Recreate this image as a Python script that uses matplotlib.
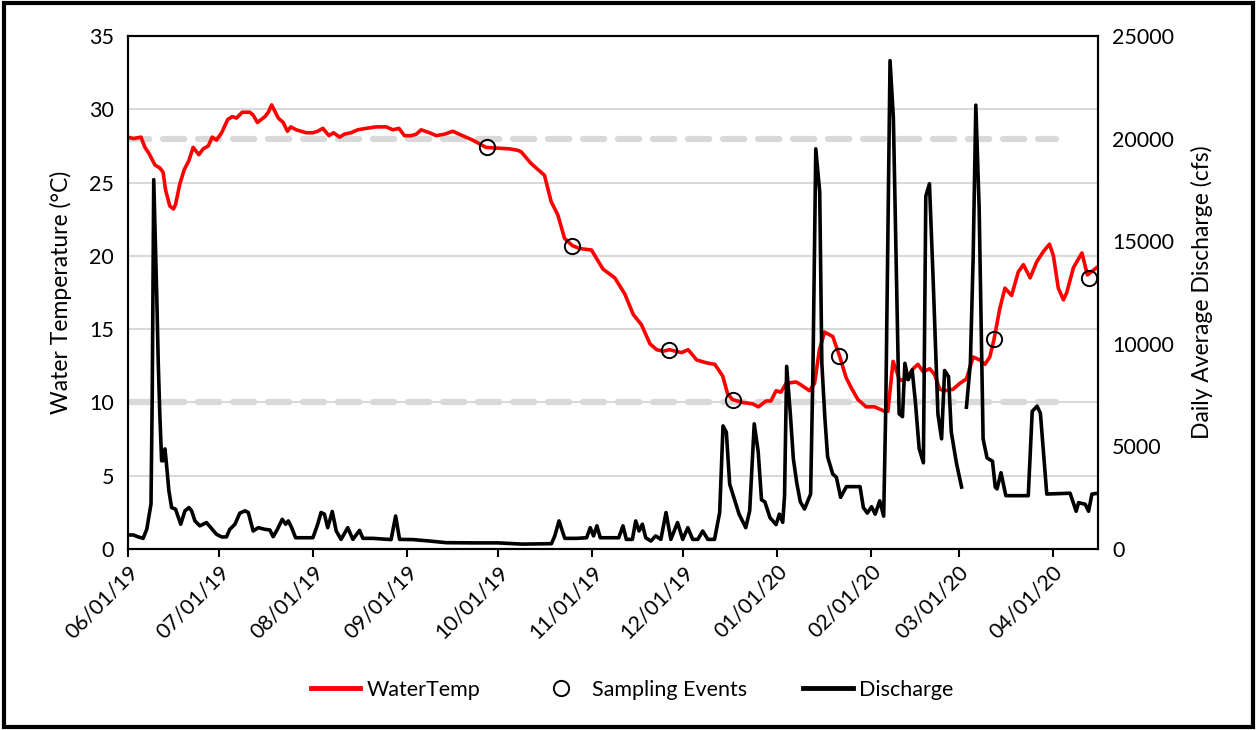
import numpy as np
import pandas as pd
import matplotlib
matplotlib.use("Agg")
import matplotlib.pyplot as plt
import matplotlib.dates as mdates
from matplotlib.lines import Line2D
from matplotlib.patches import Rectangle

plt.rcParams['font.family'] = ['Lato', 'DejaVu Sans']

start = pd.Timestamp('2019-06-01')

# water temperature (°C), days since 06/01/19
temp_day = [0, 1.8, 4.3, 5.6, 6.9, 8.9, 10.5, 11.6, 12.4, 13.8, 15.0, 15.7, 17.1, 18.6,
            20.1, 21.5, 23.4, 24.8, 26.5, 27.8, 29.2, 30.9, 32.9, 34.4, 35.8, 37.7, 40.2,
            41.3, 42.7, 45.2, 46.3, 47.4, 49.6, 51.2, 52.6, 53.7, 55.5, 58.8, 61, 62.6,
            64.3, 66.3, 67.8, 69.8, 71.4, 73.6, 75.8, 78.6, 81.9, 85.2, 87.4, 89.4, 91.2,
            93.4, 95.1, 96.7, 99.5, 101.7, 104.4, 107.2, 109.3, 113.7, 118.1, 125.9, 128.6,
            129.7, 133, 137.4, 139.6, 141.8, 144, 146.6, 149, 152.9, 156.7, 160.6, 163.9,
            166.7, 169.4, 172.2, 174.4, 176.6, 178.6, 182.6, 184.8, 187.6, 190.9, 193.6,
            196.2, 197.8, 199.4, 202.8, 206.1, 208, 210.5, 212.1, 213.8, 215.4, 217.1,
            220.4, 222, 224.8, 226.5, 228.1, 229.8, 232.5, 234.7, 236.9, 238.6, 240.8,
            243.5, 246.3, 249.6, 250.7, 252.4, 254.6, 256.8, 259, 260.6, 262.3, 264.5,
            266.1, 267.8, 269.5, 272.2, 274.4, 276.6, 278.8, 281, 282.7, 284.3, 285.7,
            287.6, 289.3, 291.5, 293.7, 295.4, 297.6, 299.8, 302, 304, 305.3, 306.9,
            308.6, 309.7, 311.9, 314.7, 316.5, 320.2]
temp_c = [28.1, 28.0, 28.1, 27.4, 27.0, 26.2, 26.0, 25.7, 24.5, 23.4, 23.2, 23.5, 24.9, 25.9,
          26.5, 27.4, 26.9, 27.3, 27.5, 28.1, 27.9, 28.4, 29.3, 29.5, 29.4, 29.8, 29.8,
          29.6, 29.1, 29.5, 29.8, 30.3, 29.4, 29.1, 28.5, 28.8, 28.6, 28.4, 28.4, 28.5,
          28.7, 28.2, 28.4, 28.1, 28.3, 28.4, 28.6, 28.7, 28.8, 28.8, 28.6, 28.7, 28.2,
          28.2, 28.3, 28.6, 28.4, 28.2, 28.3, 28.5, 28.3, 27.9, 27.4, 27.3, 27.2,
          27.1, 26.3, 25.5, 23.7, 22.8, 21.2, 20.7, 20.5, 20.4, 19.1, 18.5, 17.4,
          16.0, 15.3, 14.0, 13.6, 13.5, 13.6, 13.4, 13.6, 12.9, 12.7, 12.6,
          11.8, 10.6, 10.2, 10.0, 9.9, 9.7, 10.1, 10.1, 10.8, 10.7, 11.3,
          11.4, 11.2, 10.8, 11.3, 13.6, 14.8, 14.5, 13.2, 11.7, 11.0, 10.2,
          9.7, 9.7, 9.4, 9.4, 12.8, 11.5, 11.6, 12.3, 12.6, 12.1, 12.3,
          11.9, 10.9, 10.8, 10.9, 11.3, 11.6, 13.1, 12.9, 12.6, 13.1, 14.3,
          16.4, 17.8, 17.3, 18.9, 19.4, 18.5, 19.6, 20.3, 20.8, 20.0, 17.8,
          17.0, 17.5, 19.2, 20.2, 18.7, 19.3]

# sampling events
sample_day = [118.3, 146.6, 178.6, 199.5, 234.6, 285.7, 316.9]
sample_temp = [27.4, 20.7, 13.6, 10.2, 13.2, 14.3, 18.5]

# daily average discharge (cfs); NaN marks missing days
flow_day = [0, 1.8, 3.4, 5.0, 6.2, 7.6, 8.0, 8.5, 9.5, 10.0, 10.5, 11.1, 11.6, 12.2, 12.7,
            13.5, 14.4, 15.7, 17.4, 18.8, 20.1, 21.0, 22.1, 23.7, 25.9, 27.8, 29.2, 30.9,
            32.5, 33.6, 35.3, 36.9, 38.6, 39.7, 41.3, 43.0, 45.2, 46.8, 47.9, 49.3, 50.9,
            52.0, 52.9, 54.0, 55.3, 61, 62.6, 63.7, 64.8, 65.9, 67.4, 68.7, 70.3, 72.5,
            74.2, 76.4, 77.5, 80.8, 86.8, 88.3, 89.6, 94, 99.5, 105, 114, 122, 130,
            139.7, 140.8, 142.2, 143.3, 144.1, 148, 151.3, 152.5, 153.6, 154.7, 155.8,
            161.9, 163.3, 164.4, 166.4, 167.5, 168.6, 169.7, 170.8, 172.5, 174.1, 175.8,
            177.5, 179.1, 181.3, 183, 184.7, 186.3, 188, 189.6, 191.3, 193.5, 195.2,
            196.3, 197.4, 198.5, 200.2, 201.6, 203.8, 205.1, 206.6, 207.9, 209, 210.1,
            211.8, 213.8, 214.9, 216.0, 216.6, 217.3, 218.5, 219.5, 220.6, 221.8, 223.2,
            225.2, 226.0, 226.9, 228.2, 228.9, 229.9, 230.8, 232.5, 233.7, 235.1, 237.0,
            241.5, 242.6, 243.9, 245.3, 246.5, 248.0, 249.3, 250.0, 251.4, 252.5, 253.6,
            254.4, 255.5, 256.3, 257.4, 258.7, 259.8, 261.0, 262.4, 263.2, 264.4, 265.6,
            267.2, 268.4, 269.4, 270.7, 271.6, 273.3, 275.0, 275.8, 276.6, 277.9, 278.8,
            279.7, 280.8, 282.1, 283.4, 285.2, 286.1, 286.7, 288.0, 289.6, 297.0, 298.3,
            299.9, 301.0, 303.1, 310.8, 312.8, 313.6, 315.8, 316.9, 318.0, 320.2]
flow_cfs = [685, 685, 590, 520, 960, 2190, 7400, 18000, 12300, 9040, 6590, 4300, 4300, 4880, 4140,
            2840, 2020, 1940, 1210, 1860, 2020, 1860, 1370, 1130, 1290, 960, 720, 590,
            590, 960, 1210, 1750, 1860, 1780, 880, 1040, 960, 930, 600, 960, 1450,
            1210, 1370, 1040, 550, 550, 1210, 1780, 1700, 1040, 1830, 880, 470, 1040,
            470, 910, 520, 520, 460, 1610, 470, 460, 390, 310, 300, 300, 240,
            260, 640, 1370, 880, 520, 520, 550, 1040, 640, 1130, 550,
            550, 1130, 470, 470, 1370, 880, 1210, 550, 390, 640, 470,
            1780, 470, 1290, 470, 1040, 470, 470, 880, 470, 470, 1780,
            6000, 5690, 3160, 2350, 1700, 1040, 1860, 6100, 4750, 2400, 2300,
            1530, 1190, 1700, 1300, 2600, 8900, 6600, 4400, 3250, 2300, 1950,
            2680, 9040, 19500, 17400, 9050, 6400, 4500, 3650, 3500, 2520, 3040,
            3040, 2020, 1750, 2060, 1700, 2350, 1600, 7000, 23800, 21000, 12500,
            6590, 6450, 9050, 8250, 8730, 7100, 4900, 4200, 17200, 17800, 13200,
            6570, 5370, 8700, 8400, 5700, 4190, 3020, np.nan, 6910, 9060, 14090,
            21630, 16600, 5370, 4440, 4280, 3020, 2930, 3720, 2600, 2600, 6710,
            6960, 6620, 2680, 2720, 1840, 2260, 2180, 1840, 2680, 2720]

# reference temperatures shown as dashed guides
ref_temps = [28, 10]
ref_end = pd.Timestamp('2020-04-02')


def to_dates(days):
    return start + pd.to_timedelta(np.asarray(days, dtype=float), unit='D')


fig = plt.figure(figsize=(12.57, 7.30), dpi=100)
ax = fig.add_axes([0.1018, 0.2479, 0.7717, 0.7028])
ax2 = ax.twinx()

grid_c = '#d9d9d9'
for t in range(5, 35, 5):
    ax.axhline(t, color=grid_c, lw=1.5, zorder=0)
for t in ref_temps:
    ax.plot([start, ref_end], [t, t], color=grid_c, lw=4.5, ls=(0, (3.4, 2.2)),
            dash_capstyle='round', zorder=1)

ax.plot(to_dates(temp_day), temp_c, color='#ff0000', lw=2.6, zorder=3)
ax.plot(to_dates(sample_day), sample_temp, ls='none', marker='o', ms=11,
        mfc='none', mec='black', mew=1.4, zorder=4)
ax2.plot(to_dates(flow_day), flow_cfs, color='black', lw=2.6)

ax.set_ylim(0, 35)
ax.set_yticks(range(0, 36, 5))
ax2.set_ylim(0, 25000)
ax2.set_yticks(range(0, 25001, 5000))
ax.set_xlim(start, pd.Timestamp('2020-04-16'))
ax.xaxis.set_major_locator(mdates.MonthLocator())
ax.xaxis.set_major_formatter(mdates.DateFormatter('%m/%d/%y'))

for a in (ax, ax2):
    for s in a.spines.values():
        s.set_linewidth(1.5)
        s.set_color('black')
ax.tick_params(axis='y', length=0, labelsize=15.5, pad=10)
ax2.tick_params(axis='y', length=0, labelsize=15.5, pad=10)
ax.tick_params(axis='x', length=6, width=1.5, labelsize=15.5, pad=3)
plt.setp(ax.get_xticklabels(), rotation=45, ha='right', va='top', rotation_mode='anchor')

ax.set_ylabel('Water Temperature (°C)', fontsize=16.5, labelpad=12)
ax2.set_ylabel('Daily Average Discharge (cfs)', fontsize=16.5, labelpad=12)

handles = [
    Line2D([], [], color='#ff0000', lw=3.5),
    Line2D([], [], ls='none', marker='o', ms=11, mfc='none', mec='black', mew=1.4),
    Line2D([], [], color='black', lw=3.5),
]
fig.legend(handles, ['WaterTemp', 'Sampling Events', 'Discharge'], loc='center',
           bbox_to_anchor=(0.503, 0.055), ncol=3, frameon=False, fontsize=15.5,
           handlelength=2.3, handletextpad=0.3, columnspacing=2.6)

fig.patches.append(Rectangle((0.003, 0.004), 0.994, 0.992, transform=fig.transFigure,
                             fill=False, edgecolor='black', lw=3))

fig.savefig('out.png', dpi=100)
